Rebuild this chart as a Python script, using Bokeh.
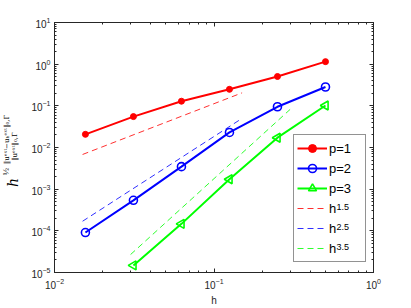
import numpy as np
from bokeh.plotting import figure
from bokeh.models import (LogAxis, FixedTicker, Legend, LegendItem, Label, Arrow,
                          CustomJSTickFormatter, Range1d)
from bokeh.embed import file_html
from bokeh.resources import INLINE

# ---- data ----
h_vals = [0.015625, 0.03125, 0.0625, 0.125, 0.25, 0.5]
err_p1 = [0.0207, 0.0552, 0.129, 0.249, 0.506, 1.15]
err_p2 = [9.1e-5, 5.4e-4, 3.47e-3, 0.023, 0.095, 0.283]
h_p3 = [0.03125, 0.0625, 0.125, 0.25, 0.5]
err_p3 = [1.48e-5, 1.47e-4, 1.73e-3, 0.0172, 0.102]

ref_h_12 = [0.015, 0.15]
ref_15 = [0.0068, 0.205]
ref_25 = [1.7e-4, 0.05]
ref_h_3 = [0.03, 0.3]
ref_35 = [2.7e-5, 0.082]

x_major = [0.01, 0.1, 1.0]
y_major = [1e-5, 1e-4, 1e-3, 1e-2, 1e-1, 1.0, 10.0]
x_minor = [k * 10.0 ** e for e in (-2, -1) for k in range(2, 10)]
y_minor = [k * 10.0 ** e for e in (-5, -4, -3, -2, -1, 0) for k in range(2, 10)]

series_labels = ["p=1", "p=2", "p=3"]
ref_labels = ["h", "h", "h"]
ref_exponents = ["1.5", "2.5", "3.5"]
x_label = "h"

AX = "#262626"
FONT = "Liberation Sans"

p = figure(width=411, height=308, x_axis_type="log", y_axis_type="log",
           x_range=Range1d(0.01, 1.0), y_range=Range1d(1e-5, 10.0),
           output_backend="svg", toolbar_location=None,
           min_border_left=54, min_border_right=38, min_border_top=22, min_border_bottom=33)
p.xgrid.visible = False
p.ygrid.visible = False
p.outline_line_color = AX
p.background_fill_color = "white"

def style_axis(ax):
    ax.major_tick_in = 4
    ax.major_tick_out = 0
    ax.minor_tick_in = 2
    ax.minor_tick_out = 0
    ax.axis_line_color = AX
    ax.major_tick_line_color = AX
    ax.minor_tick_line_color = AX
    ax.major_label_text_color = AX
    ax.major_label_text_font = FONT
    ax.major_label_text_font_size = "10px"

p.xaxis.ticker = FixedTicker(ticks=x_major, minor_ticks=x_minor)
p.yaxis.ticker = FixedTicker(ticks=y_major, minor_ticks=y_minor)
style_axis(p.xaxis[0])
style_axis(p.yaxis[0])
p.xaxis.major_label_standoff = 5
p.yaxis.major_label_standoff = 4
p.xaxis.axis_label = x_label
p.xaxis.axis_label_text_font = FONT
p.xaxis.axis_label_text_font_size = "10px"
p.xaxis.axis_label_text_font_style = "normal"
p.xaxis.axis_label_text_color = AX
p.xaxis.axis_label_standoff = 3

for loc, tk in (("above", FixedTicker(ticks=x_major, minor_ticks=x_minor)),
                ("right", FixedTicker(ticks=y_major, minor_ticks=y_minor))):
    ax = LogAxis(ticker=tk, formatter=CustomJSTickFormatter(code="return ''"))
    style_axis(ax)
    ax.major_label_text_font_size = "0px"
    ax.major_label_standoff = 0
    p.add_layout(ax, loc)

# reference slopes
rr1 = p.line(ref_h_12, ref_15, line_color="#ff3030", line_width=1, line_dash="6 4")
rr2 = p.line(ref_h_12, ref_25, line_color="#3030ff", line_width=1, line_dash="6 4")
rr3 = p.line(ref_h_3, ref_35, line_color="#30ff30", line_width=1, line_dash="6 4")

# data
r1l = p.line(h_vals, err_p1, line_color="#ff0000", line_width=2)
r1m = p.scatter(h_vals, err_p1, marker="circle", size=6, fill_color="#ff0000", line_color="#ff0000")
r2l = p.line(h_vals, err_p2, line_color="#0000ff", line_width=2)
r2m = p.scatter(h_vals, err_p2, marker="circle", size=8, fill_color=None, line_color="#0000ff", line_width=1.6)
r3l = p.line(h_p3, err_p3, line_color="#00ff00", line_width=2)
r3m = p.scatter(h_p3, err_p3, marker="triangle", size=9, angle=np.pi / 2, fill_color=None,
                line_color="#00ff00", line_width=1.6)

pad = " " * 7
items = [LegendItem(label=series_labels[0], renderers=[r1l, r1m]),
         LegendItem(label=series_labels[1], renderers=[r2l, r2m]),
         LegendItem(label=series_labels[2], renderers=[r3l, r3m]),
         LegendItem(label=ref_labels[0] + pad, renderers=[rr1]),
         LegendItem(label=ref_labels[1] + pad, renderers=[rr2]),
         LegendItem(label=ref_labels[2] + pad, renderers=[rr3])]
legend = Legend(items=items, location=(239, 10), margin=0, padding=3, spacing=0,
                glyph_width=30, glyph_height=20, label_height=20, label_standoff=2,
                label_text_font=FONT, label_text_font_size="13px", label_text_color="black",
                border_line_color=AX, border_line_width=1, background_fill_alpha=0.0)
p.add_layout(legend)

# exponents of the reference-slope legend entries (inside the frame)
for i, ex in enumerate(ref_exponents):
    p.add_layout(Label(x=336, y=206 + 20 * i, x_units="canvas", y_units="canvas", text=ex,
                       text_font=FONT, text_font_size="9px", text_color="black",
                       text_align="left", text_baseline="middle"))

# y-axis label built from rotated pieces, placed in side panels (not clipped by the frame)
SERIF = "DejaVu Serif"
ylab = [
    dict(text="h", x=12.5, y=182, size="14px", style="italic", side="left"),
    dict(text="\u00bd", x=5.5, y=171, size="8px", style="normal", side="left"),
    dict(text="\u2016u\u1d49\u02e3\u1d57\u2212u\u2095\u1d49\u02e3\u1d57\u2016\u2080,\u0393", x=6, y=139, size="7px", style="normal", side="right"),
    dict(text="\u2016u\u1d49\u02e3\u1d57\u2016\u2080,\u0393", x=14.5, y=146, size="7px", style="normal", side="right"),
]
for d in ylab:
    p.add_layout(Label(x=d["x"], y=d["y"], x_units="canvas", y_units="canvas", text=d["text"],
                       angle=np.pi / 2, text_font=SERIF, text_font_size=d["size"],
                       text_font_style=d["style"], text_color="black",
                       text_align="center", text_baseline="middle"), d["side"])
p.add_layout(Arrow(end=None, start=None, x_start=10.5, y_start=111, x_end=10.5, y_end=168,
                   start_units="canvas", end_units="canvas", line_color="black", line_width=0.7),
             "right")

open("out.html", "w").write(file_html(p, INLINE))
